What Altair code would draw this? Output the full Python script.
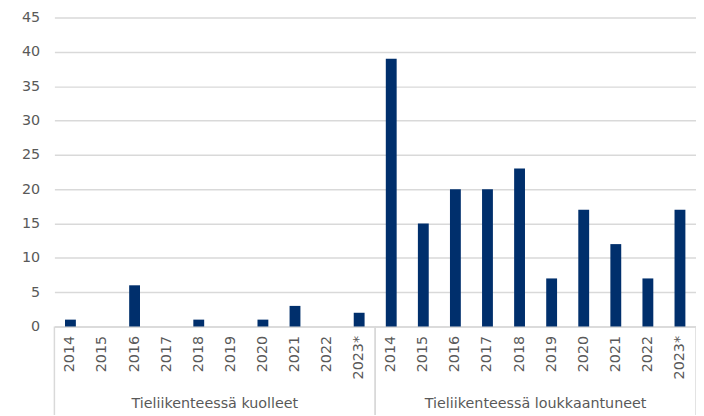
import altair as alt
import pandas as pd

groups = ["Tieliikenteessä kuolleet", "Tieliikenteessä loukkaantuneet"]
years = ["2014", "2015", "2016", "2017", "2018", "2019", "2020", "2021", "2022", "2023*"]
kuolleet = [1, 0, 6, 0, 1, 0, 1, 3, 0, 2]
loukkaantuneet = [39, 15, 20, 20, 23, 7, 17, 12, 7, 17]

rows = []
for g, vals in zip(groups, [kuolleet, loukkaantuneet]):
    for y, v in zip(years, vals):
        rows.append({"group": g, "year": y, "key": g + "|" + y, "value": v})
df = pd.DataFrame(rows)
keys = list(df["key"])
gdf = pd.DataFrame({"group": groups})

W, H = 650, 313
GRAY = "#d9d9d9"
TXT = "#595959"
FONT = "DejaVu Sans"
FS = 14.5

bars = alt.Chart(df).mark_bar(size=11, color="#002f6c").encode(
    x=alt.X("key:N", sort=keys, title=None,
            scale=alt.Scale(paddingInner=0, paddingOuter=0),
            axis=alt.Axis(labelExpr="split(datum.label, '|')[1]", labelAngle=270,
                          labelAlign="right", labelBaseline="middle", labelPadding=9,
                          ticks=False, domainColor=GRAY, domainWidth=1.5, grid=False,
                          labelColor=TXT, labelFont=FONT, labelFontSize=FS)),
    y=alt.Y("value:Q", title=None,
            scale=alt.Scale(domain=[0, 45]),
            axis=alt.Axis(values=list(range(0, 50, 5)), ticks=False, domain=False,
                          gridColor=GRAY, gridWidth=1.5, labelPadding=15,
                          labelColor=TXT, labelFont=FONT, labelFontSize=FS)),
)

gscale = alt.Scale(type="band", paddingInner=0, paddingOuter=0)
glabels = alt.Chart(gdf).mark_text(font=FONT, fontSize=FS, color=TXT, baseline="middle").encode(
    x=alt.X("group:N", sort=groups, scale=gscale, axis=None),
    y=alt.value(H + 79),
    text="group:N",
)
rule_left = alt.Chart(gdf).mark_rule(color=GRAY, strokeWidth=1.5).encode(
    x=alt.X("group:N", sort=groups, scale=gscale, axis=None, bandPosition=0),
    y=alt.value(H), y2=alt.value(H + 100),
)
rule_right = alt.Chart(gdf).mark_rule(color=GRAY, strokeWidth=1.5).encode(
    x=alt.X("group:N", sort=groups, scale=gscale, axis=None, bandPosition=1),
    y=alt.value(H), y2=alt.value(H + 100),
)
glayer = alt.layer(glabels, rule_left, rule_right)

chart = alt.layer(bars, glayer).resolve_scale(x="independent").properties(
    width=W, height=H,
    autosize=alt.AutoSizeParams(type="none"),
    padding={"left": 47, "top": 7, "right": 0, "bottom": 87},
).configure_view(stroke=None)

chart.save("out.html", embed_options={"renderer": "svg", "actions": False})
